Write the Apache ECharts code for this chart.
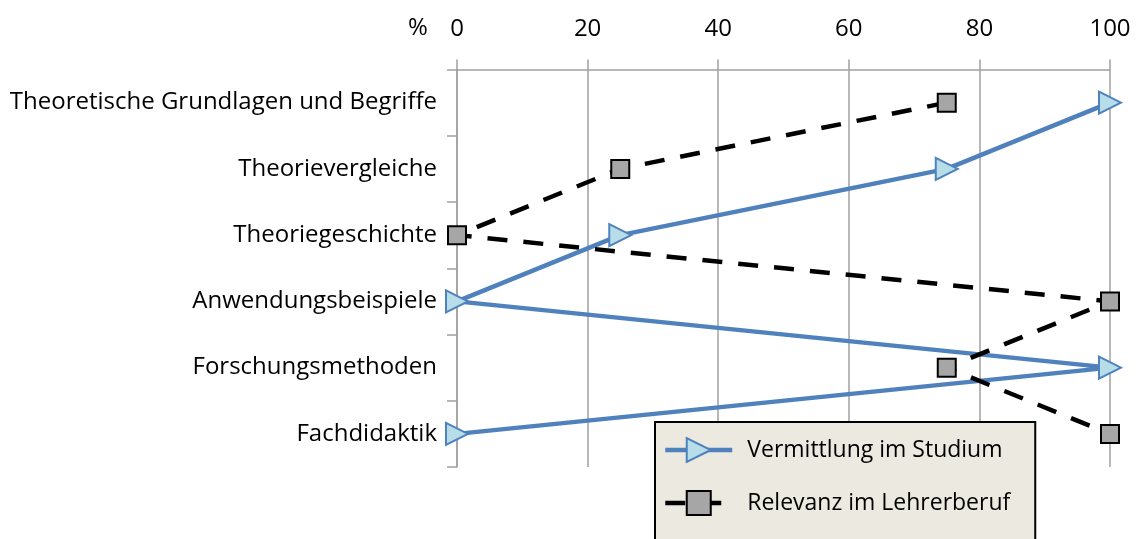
<!DOCTYPE html>
<html>
<head>
<meta charset="utf-8">
<script src="https://cdn.jsdelivr.net/npm/echarts@6/dist/echarts.min.js"></script>
<style>
html,body{margin:0;padding:0;background:#fff;}
#chart{width:1136px;height:539px;}
</style>
</head>
<body>
<div id="chart"></div>
<script>
const categories = [
  'Theoretische Grundlagen und Begriffe',
  'Theorievergleiche',
  'Theoriegeschichte',
  'Anwendungsbeispiele',
  'Forschungsmethoden',
  'Fachdidaktik'
];
const vermittlung = [100, 75, 25, 0, 100, 0];
const relevanz = [75, 25, 0, 100, 75, 100];
const seriesNames = ['Vermittlung im Studium', 'Relevanz im Lehrerberuf'];
const xTicks = { min: 0, max: 100, interval: 20 };

const FONT = '"Open Sans", Lato, sans-serif';
const chart = echarts.init(document.getElementById('chart'), null, { renderer: 'canvas' });
chart.setOption({
  animation: false,
  backgroundColor: '#fff',
  textStyle: { fontFamily: FONT },
  title: {
    text: '%', left: 403, top: 11,
    textStyle: { fontFamily: FONT, fontSize: 24, fontWeight: 'normal', color: '#000' }
  },
  grid: { left: 457, right: 26, top: 69.5, bottom: 72, containLabel: false },
  xAxis: {
    type: 'value', position: 'top',
    min: xTicks.min, max: xTicks.max, interval: xTicks.interval,
    axisLine: { show: true, lineStyle: { color: '#A0A0A0', width: 1.5 } },
    axisTick: { show: true, inside: false, length: 10, lineStyle: { color: '#A0A0A0', width: 1.5 } },
    splitLine: { show: true, lineStyle: { color: '#A0A0A0', width: 1.5 } },
    axisLabel: { color: '#000', fontSize: 24, fontFamily: FONT, margin: 28 }
  },
  yAxis: {
    type: 'category', data: categories, inverse: true,
    axisLine: { show: true, lineStyle: { color: '#A0A0A0', width: 1.5 } },
    axisTick: { show: true, length: 10, lineStyle: { color: '#A0A0A0', width: 1.5 } },
    splitLine: { show: false },
    axisLabel: { color: '#000', fontSize: 24, fontFamily: FONT, margin: 20 }
  },
  legend: {
    orient: 'vertical', left: 655, top: 422, height: 300, width: 400,
    backgroundColor: '#ECE9E0', borderColor: '#000', borderWidth: 2,
    padding: [15, 25, 40, 8],
    itemWidth: 67, itemHeight: 30, itemGap: 27,
    textStyle: { fontFamily: FONT, fontSize: 23, color: '#000', padding: [0, 0, 0, 10] },
    data: [
      { name: seriesNames[0], lineStyle: { width: 4.5 } },
      { name: seriesNames[1], lineStyle: { width: 4.5 } }
    ]
  },
  series: [
    {
      name: seriesNames[0], type: 'line', data: vermittlung,
      symbol: 'triangle', symbolRotate: -90, symbolSize: 22,
      lineStyle: { color: '#4F81BD', width: 4.5 },
      itemStyle: { color: '#B7DEE8', borderColor: '#4F81BD', borderWidth: 2 },
      z: 2
    },
    {
      name: seriesNames[1], type: 'line', data: relevanz,
      symbol: 'rect', symbolSize: 18,
      lineStyle: { color: '#000', width: 4.5, type: [20, 16] },
      itemStyle: { color: '#A6A6A6', borderColor: '#000', borderWidth: 2 },
      z: 3
    }
  ]
});
</script>
</body>
</html>
